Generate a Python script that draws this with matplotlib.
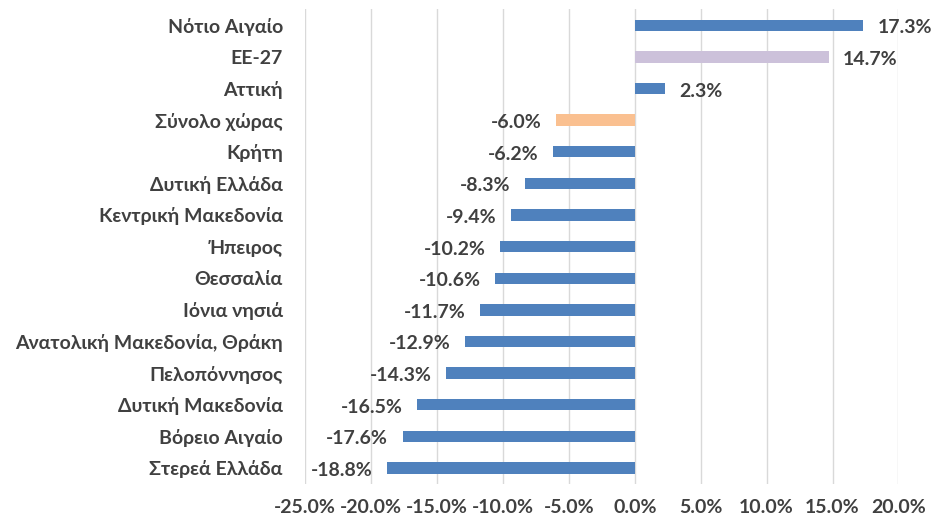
import numpy as np
import matplotlib.pyplot as plt
from matplotlib.ticker import FuncFormatter

plt.rcParams['font.family'] = ['Lato', 'DejaVu Sans']

# regions top to bottom
regions = ['Νότιο Αιγαίο', 'ΕΕ-27', 'Αττική', 'Σύνολο χώρας', 'Κρήτη', 'Δυτική Ελλάδα',
           'Κεντρική Μακεδονία', 'Ήπειρος', 'Θεσσαλία', 'Ιόνια νησιά',
           'Ανατολική Μακεδονία, Θράκη', 'Πελοπόννησος', 'Δυτική Μακεδονία',
           'Βόρειο Αιγαίο', 'Στερεά Ελλάδα']
change = [17.3, 14.7, 2.3, -6.0, -6.2, -8.3, -9.4, -10.2, -10.6, -11.7, -12.9, -14.3, -16.5, -17.6, -18.8]

blue = '#4F81BD'
bar_colors = [blue] * len(regions)
bar_colors[1] = '#CCC1DA'
bar_colors[3] = '#FAC090'
txt = '#404040'
fs = 14

fig = plt.figure(figsize=(9.33, 5.23), dpi=100)
ax = fig.add_axes([0.327, 0.075, 0.636, 0.907])

y = np.arange(len(regions))[::-1]
ax.barh(y, change, height=0.36, color=bar_colors, zorder=3)

# value labels sit a bit below the bar centre, like the original
for yi, v in zip(y, change):
    if v >= 0:
        ax.text(v + 1.1, yi - 0.08, f'{v:.1f}%', ha='left', va='center', fontsize=fs,
                fontweight='bold', color=txt)
    else:
        ax.text(v - 1.1, yi - 0.08, f'{v:.1f}%', ha='right', va='center', fontsize=fs,
                fontweight='bold', color=txt)

ax.set_xlim(-25, 20)
ax.set_ylim(-0.5, len(regions) - 0.5)
ax.set_xticks(np.arange(-25, 21, 5))
ax.xaxis.set_major_formatter(FuncFormatter(lambda v, p: f'{v:.1f}%'))
ax.set_yticks(y)
ax.set_yticklabels(regions)
ax.grid(axis='x', color='#D9D9D9', linewidth=1, zorder=0)
for s in ax.spines.values():
    s.set_visible(False)
ax.tick_params(length=0, labelsize=fs, labelcolor=txt)
ax.tick_params(axis='y', pad=16)
ax.tick_params(axis='x', pad=11)
for lab in ax.get_xticklabels() + ax.get_yticklabels():
    lab.set_fontweight('bold')

plt.savefig('out.png', dpi=100)
